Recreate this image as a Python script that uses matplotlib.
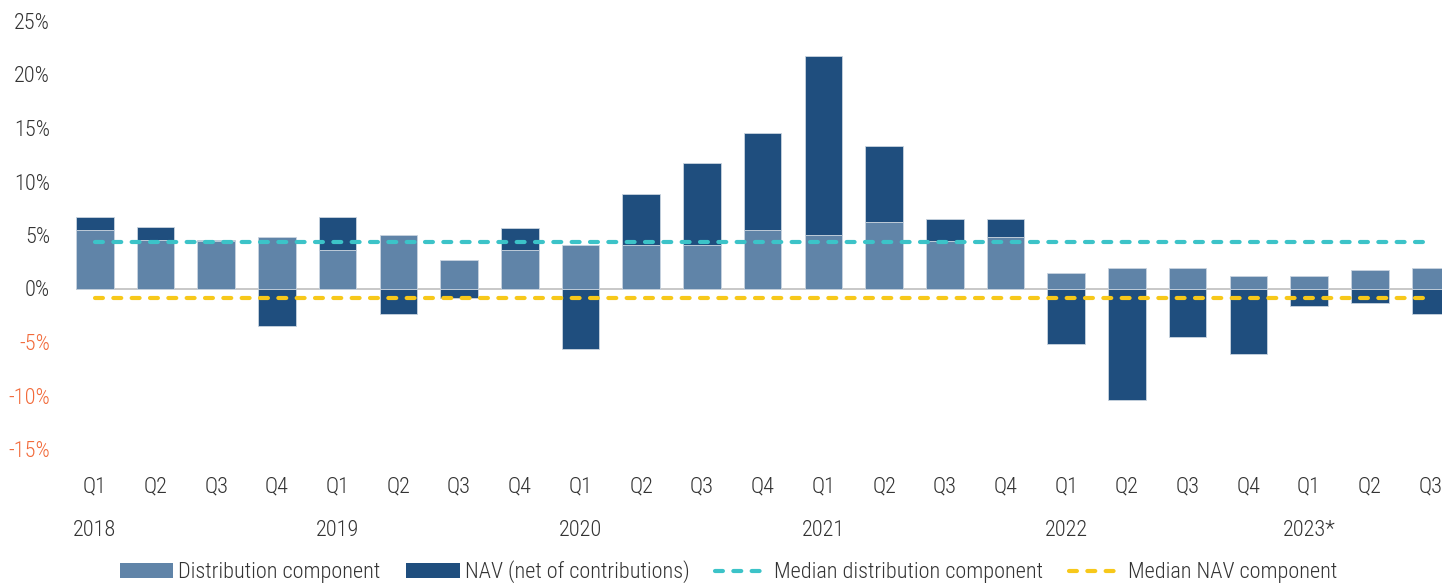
import matplotlib
matplotlib.use('Agg')
import matplotlib.pyplot as plt
import matplotlib.transforms as mtransforms
from matplotlib import font_manager as fm
from matplotlib.patches import Patch
from matplotlib.lines import Line2D
import numpy as np

# condensed face if there is one, else plain Roboto a bit smaller
try:
    fm.findfont('Roboto Condensed', fallback_to_default=False)
    plt.rcParams['font.family'] = ['Roboto Condensed', 'DejaVu Sans']
    fs = 16
except ValueError:
    plt.rcParams['font.family'] = ['Roboto', 'DejaVu Sans']
    fs = 14.2
plt.rcParams['font.weight'] = 'light'

quarters = ['Q1', 'Q2', 'Q3', 'Q4', 'Q1', 'Q2', 'Q3', 'Q4', 'Q1', 'Q2', 'Q3', 'Q4',
            'Q1', 'Q2', 'Q3', 'Q4', 'Q1', 'Q2', 'Q3', 'Q4', 'Q1', 'Q2', 'Q3']
years = ['2018', '2019', '2020', '2021', '2022', '2023*']
year_pos = [0, 4, 8, 12, 16, 20]

distribution = [5.5, 4.55, 4.4, 4.8, 3.6, 5.0, 2.65, 3.6, 4.1, 4.1, 4.1, 5.5,
                5.0, 6.2, 4.4, 4.85, 1.45, 1.9, 1.9, 1.2, 1.2, 1.7, 1.9]
nav = [1.15, 1.2, 0.15, -3.5, 3.1, -2.35, -0.85, 2.1, -5.7, 4.75, 7.6, 9.0,
       16.7, 7.15, 2.05, 1.6, -5.2, -10.45, -4.5, -6.15, -1.6, -1.4, -2.35]
median_dist = 4.35
median_nav = -0.9

c_dist = '#6084A8'
c_nav = '#1F4E7E'
c_mdist = '#3CC3C8'
c_mnav = '#F7C81A'
txt = '#333333'
neg = '#F26A3A'
dash = (1.9, 2.5)

fig = plt.figure(figsize=(14.42, 5.83), dpi=100)
ax = fig.add_axes([76 / 1442, 1 - 449 / 583, 1 - 76 / 1442, (449 - 21) / 583])

x = np.arange(len(quarters))
dist = np.array(distribution)
nv = np.array(nav)
bottoms = np.where(nv > 0, dist, 0)

ax.bar(x, dist, width=0.62, color=c_dist, edgecolor='#c9d4df', linewidth=0.6, zorder=2)
ax.bar(x, nv, width=0.62, bottom=bottoms, color=c_nav, edgecolor='#c9d4df', linewidth=0.6, zorder=2)
ax.axhline(0, color='#bfbfbf', linewidth=1.2, zorder=1)

ax.plot([x[0], x[-1]], [median_dist] * 2, color=c_mdist, linewidth=3,
        dashes=dash, dash_capstyle='round', zorder=4)
ax.plot([x[0], x[-1]], [median_nav] * 2, color=c_mnav, linewidth=3,
        dashes=dash, dash_capstyle='round', zorder=4)

ax.set_xlim(-0.31, 22.19)
ax.set_ylim(-15, 25)
yt = [-15, -10, -5, 0, 5, 10, 15, 20, 25]
ax.set_yticks(yt)
ax.set_yticklabels(['%d%%' % v for v in yt], fontsize=fs)
for lab, v in zip(ax.get_yticklabels(), yt):
    lab.set_color(neg if v < 0 else txt)
ax.set_xticks(x)
ax.set_xticklabels(quarters, fontsize=fs, color=txt)
ax.tick_params(axis='both', length=0)
ax.tick_params(axis='x', pad=20)
ax.tick_params(axis='y', pad=18.7)
for s in ax.spines.values():
    s.set_visible(False)

trans = mtransforms.blended_transform_factory(ax.transData, fig.transFigure)
for yp, yl in zip(year_pos, years):
    ax.text(yp, 1 - 530 / 583, yl, transform=trans, ha='center', va='center',
            fontsize=fs, color=txt)

handles = [Patch(facecolor=c_dist, edgecolor='none'),
           Patch(facecolor=c_nav, edgecolor='none'),
           Line2D([], [], color=c_mdist, linewidth=3, dashes=dash, dash_capstyle='round'),
           Line2D([], [], color=c_mnav, linewidth=3, dashes=dash, dash_capstyle='round')]
labels = ['Distribution component', 'NAV (net of contributions)',
          'Median distribution component', 'Median NAV component']
leg = fig.legend(handles, labels, loc='center', bbox_to_anchor=(0.505, 1 - 572 / 583),
                 ncol=4, frameon=False, fontsize=fs, handlelength=2.4,
                 handletextpad=0.25, columnspacing=1.15, borderaxespad=0)
for t in leg.get_texts():
    t.set_color(txt)

fig.savefig('out.png', dpi=100)
